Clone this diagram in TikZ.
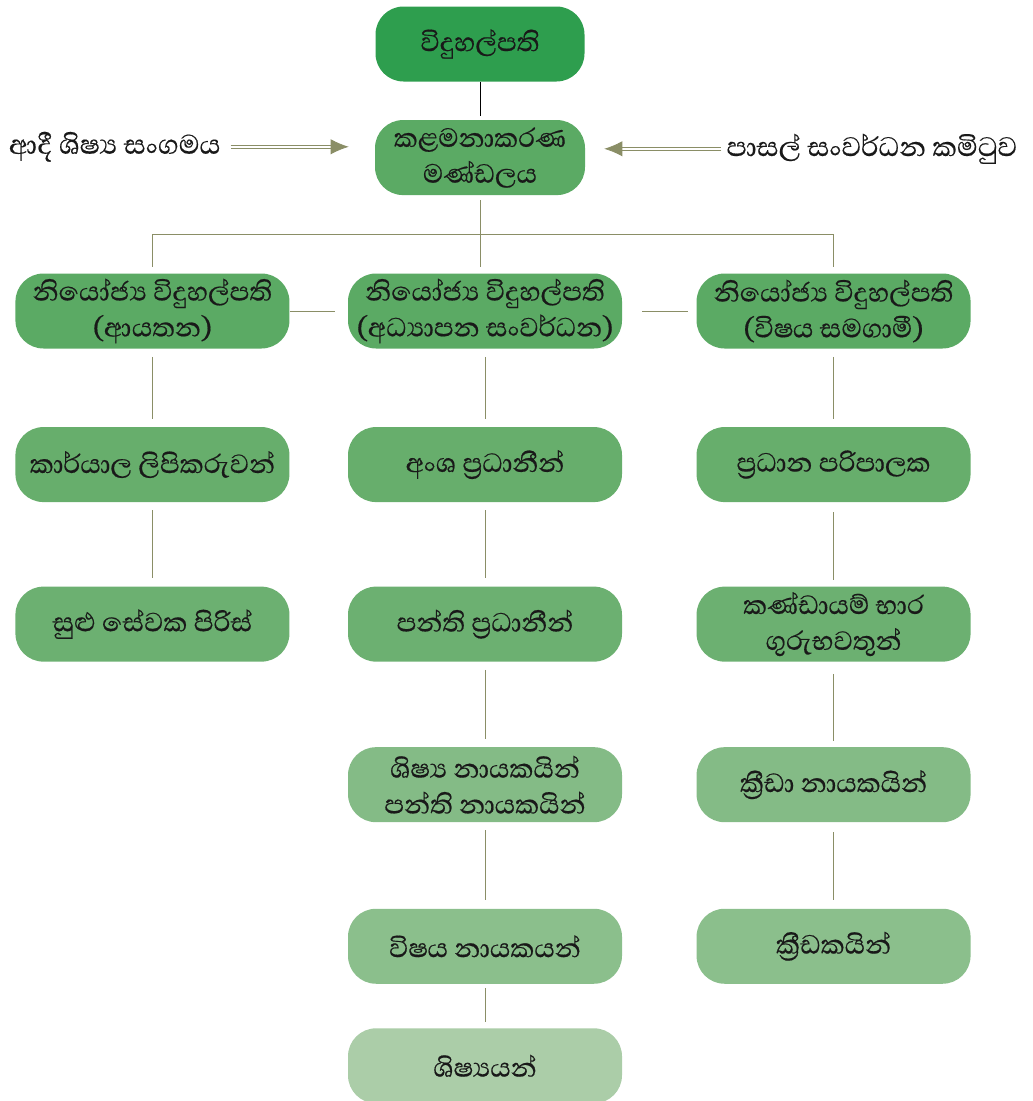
\documentclass[tikz,border=0pt]{standalone}
\usepackage{fontspec}
\setmainfont[Script=Sinhala, FakeBold=0.45]{Abhaya Libre}
\usepackage{tikz}
\usetikzlibrary{arrows.meta,positioning}
\definecolor{topgreen}{HTML}{2E9E4E}
\definecolor{greenA}{HTML}{5BAA64}
\definecolor{greenB}{HTML}{67AE6C}
\definecolor{greenC}{HTML}{6CB071}
\definecolor{greenD}{HTML}{84BB86}
\definecolor{greenE}{HTML}{8BBF8C}
\definecolor{greenF}{HTML}{ABCDA8}
\definecolor{olive}{HTML}{8A8E66}
\tikzset{
    mynode/.style={rectangle, rounded corners=0.7cm, fill=greenA, text=black!90, minimum width=6.85cm, minimum height=1.875cm, align=center, inner sep=2pt, font=\fontsize{24}{25.5}\selectfont},
    myline/.style={draw=olive, line width=0.6pt},
    myarrow/.style={draw=olive, line width=0.5pt, double, double distance=1.6pt, -{Latex[length=0.45cm,width=0.38cm]}},
    mylabel/.style={inner sep=0pt, text=black!90, font=\fontsize{24.5}{25.5}\selectfont}
}
\begin{document}
\begin{tikzpicture}[node distance=1cm]
\useasboundingbox (0,0) rectangle (25.825,-27.525);

\node[mynode, fill=topgreen, minimum width=5.225cm] (principal) at (12.0,-1.1) {විදුහල්පති};
\node[mynode, minimum width=5.25cm, below=0.95cm of principal] (board) {කළමනාකරණ\\මණ්ඩලය};

\node[mylabel, left=3.85cm of board, yshift=0.27cm] (alumni) {ආදී ශිෂ්‍ය සංගමය};
\node[mylabel, right=3.525cm of board, yshift=0.22cm] (sdc) {පාසල් සංවර්ධන කමිටුව};

% deputy principals
\node[mynode] (depedu) at (12.125,-7.775) {නියෝජ්‍ය විදුහල්පති\\(අධ්‍යාපන සංවර්ධන)};
\node[mynode, left=1.45cm of depedu] (depadmin) {නියෝජ්‍ය විදුහල්පති\\(ආයතන)};
\node[mynode, right=1.85cm of depedu] (depcurr) {නියෝජ්‍ය විදුහල්පති\\(විෂය සමගාමී)};

% left column
\node[mynode, fill=greenB, below=1.95cm of depadmin] (clerks) {කාර්යාල ලිපිකරුවන්};
\node[mynode, fill=greenC, below=2.1cm of clerks] (minor) {සුළු සේවක පිරිස්};

% middle column
\node[mynode, fill=greenB, below=1.95cm of depedu] (sechead) {අංශ ප්‍රධානීන්};
\node[mynode, fill=greenC, below=2.1cm of sechead] (clshead) {පන්ති ප්‍රධානීන්};
\node[mynode, fill=greenD, below=2.125cm of clshead] (prefects) {ශිෂ්‍ය නායකයින්\\පන්ති නායකයින්};
\node[mynode, fill=greenE, below=2.15cm of prefects] (subjlead) {විෂය නායකයන්};
\node[mynode, fill=greenF, below=1.1cm of subjlead] (students) {ශිෂ්‍යයන්};

% right column
\node[mynode, fill=greenB, below=1.95cm of depcurr] (admin) {ප්‍රධාන පරිපාලක};
\node[mynode, fill=greenC, below=2.1cm of admin] (teamtch) {කණ්ඩායම් භාර\\ගුරුභවතුන්};
\node[mynode, fill=greenD, below=2.125cm of teamtch] (sportlead) {ක්‍රීඩා නායකයින්};
\node[mynode, fill=greenE, below=2.15cm of sportlead] (players) {ක්‍රීඩකයින්};

\coordinate[below=0.975cm of board] (bus);

\draw[black, line width=0.6pt, shorten >=0.1cm] (principal.south) -- (board.north);
\draw[myarrow, shorten <=0.25cm, shorten >=0.65cm] (alumni.east) -- (alumni.east -| board.west);
\draw[myarrow, shorten <=0.125cm, shorten >=0.475cm] (sdc.west) -- (sdc.west -| board.east);

\draw[myline, shorten <=0.125cm] (board.south) -- (bus);
\draw[myline, shorten >=0.15cm] (bus) -| (depadmin.north);
\draw[myline, shorten >=0.15cm] (bus) -- (bus |- depedu.north);
\draw[myline, shorten >=0.15cm] (bus) -| (depcurr.north);
\draw[myline, shorten >=0.325cm] (depadmin.east) -- (depedu.west);
\draw[myline, shorten <=0.5cm, shorten >=0.2cm] (depedu.east) -- (depcurr.west);

\draw[myline, shorten <=0.2cm, shorten >=0.2cm] (depadmin) -- (clerks);
\draw[myline, shorten <=0.2cm, shorten >=0.2cm] (clerks) -- (minor);
\draw[myline, shorten <=0.2cm, shorten >=0.2cm] (depedu) -- (sechead);
\draw[myline, shorten <=0.2cm, shorten >=0.2cm] (sechead) -- (clshead);
\draw[myline, shorten <=0.2cm, shorten >=0.2cm] (clshead) -- (prefects);
\draw[myline, shorten <=0.2cm, shorten >=0.2cm] (prefects) -- (subjlead);
\draw[myline, shorten <=0.1cm, shorten >=0.15cm] (subjlead) -- (students);
\draw[myline, shorten <=0.2cm, shorten >=0.2cm] (depcurr) -- (admin);
\draw[myline, shorten <=0.25cm, shorten >=0.15cm] (admin) -- (teamtch);
\draw[myline, shorten <=0.3cm, shorten >=0.15cm] (teamtch) -- (sportlead);
\draw[myline, shorten <=0.25cm, shorten >=0.2cm] (sportlead) -- (players);

\end{tikzpicture}
\end{document}
